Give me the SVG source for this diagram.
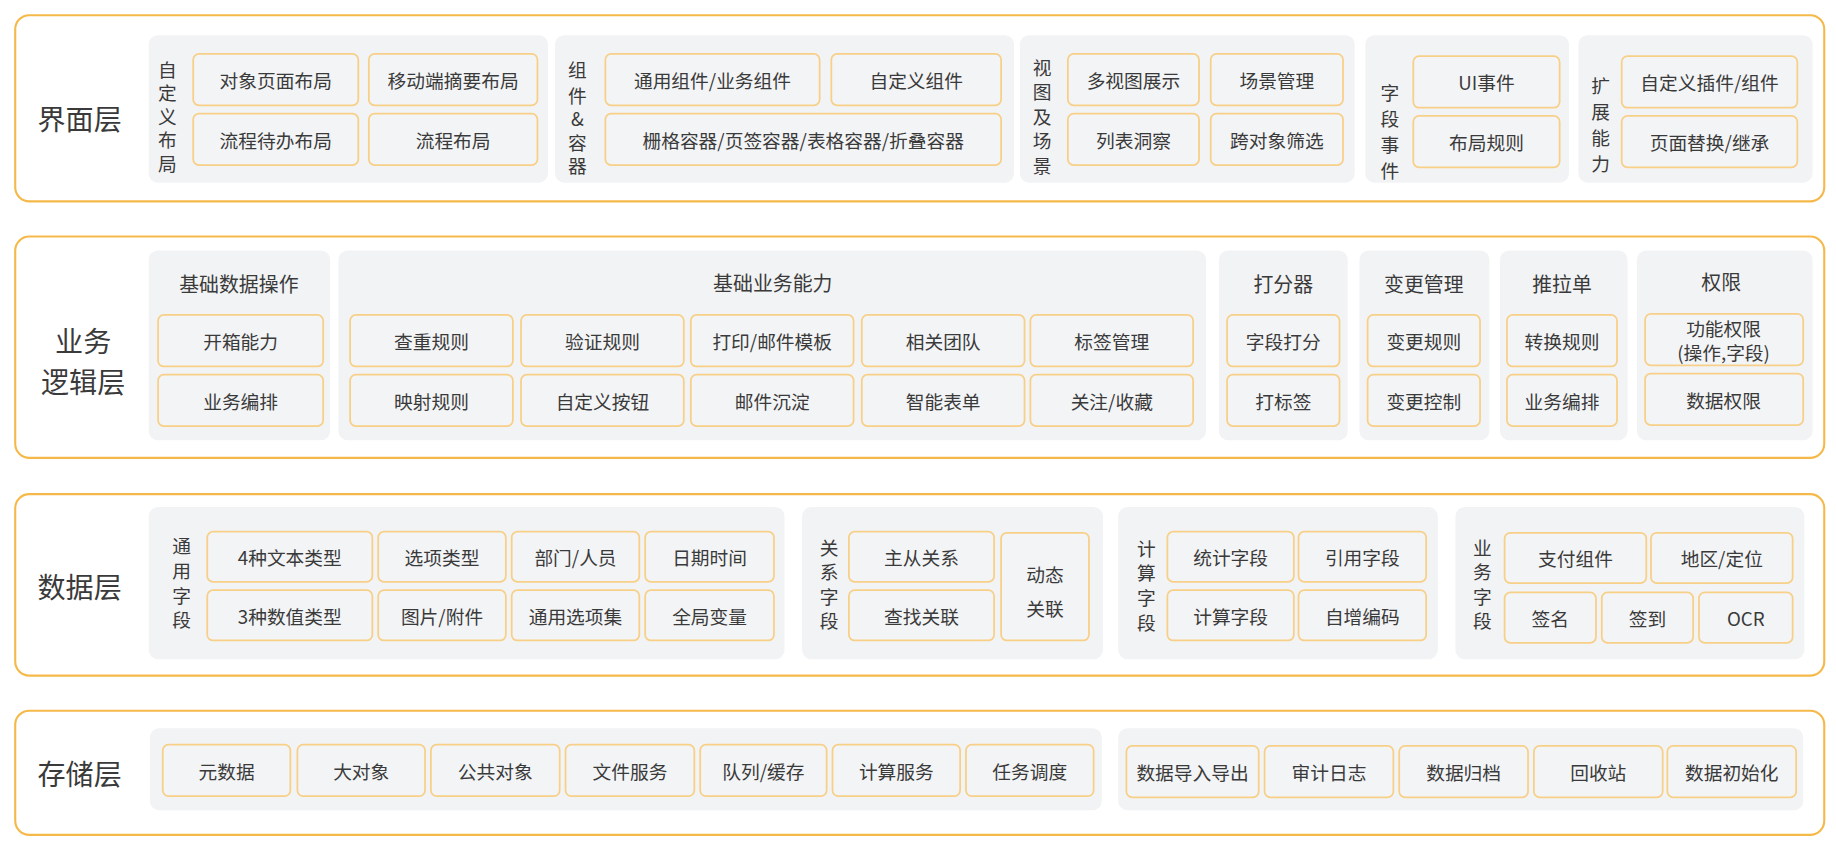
<svg xmlns="http://www.w3.org/2000/svg" width="1836" height="848" viewBox="0 0 1836 848">
<style>
.layer{fill:#fff;stroke:#f5b94a;stroke-width:1.8}
.grp{fill:#f2f3f5}
.box{fill:#f3f4f6;stroke:#f8cf86;stroke-width:1.5}
text{font-family:"Noto Sans CJK SC","Noto Sans",sans-serif;fill:#3a3a3a;text-anchor:middle;dominant-baseline:central}
.t{font-size:16px}
.h{font-size:17px}
.v{font-size:16px}
.L{font-size:24px}
</style>
<rect width="1836" height="848" fill="#fff"/>
<g transform="scale(1.1709)">
<g id="layer-ui">
<rect class="layer" x="13" y="13" width="1545" height="159" rx="12"/>
<text class="L" x="68" y="100">界面层</text>
<g id="ui-custom-layout">
<rect class="grp" x="127" y="30" width="341" height="126" rx="8"/>
<text class="v" x="143"><tspan x="143" y="58">自</tspan><tspan x="143" y="78">定</tspan><tspan x="143" y="98">义</tspan><tspan x="143" y="118">布</tspan><tspan x="143" y="138">局</tspan></text>
<rect class="box" x="165" y="46" width="141" height="44" rx="5"/><text class="t" x="235.5" y="68">对象页面布局</text>
<rect class="box" x="315" y="46" width="144" height="44" rx="5"/><text class="t" x="387" y="68">移动端摘要布局</text>
<rect class="box" x="165" y="97" width="141" height="44" rx="5"/><text class="t" x="235.5" y="119">流程待办布局</text>
<rect class="box" x="315" y="97" width="144" height="44" rx="5"/><text class="t" x="387" y="119">流程布局</text>
</g>
<g id="ui-components">
<rect class="grp" x="474" y="30" width="392" height="126" rx="8"/>
<text class="v"><tspan x="493" y="58">组</tspan><tspan x="493" y="80">件</tspan><tspan x="493" y="100">&amp;</tspan><tspan x="493" y="120">容</tspan><tspan x="493" y="140">器</tspan></text>
<rect class="box" x="517" y="46" width="183" height="44" rx="5"/><text class="t" x="608.5" y="68">通用组件/业务组件</text>
<rect class="box" x="710" y="46" width="145" height="44" rx="5"/><text class="t" x="782.5" y="68">自定义组件</text>
<rect class="box" x="517" y="97" width="338" height="44" rx="5"/><text class="t" x="686" y="119">栅格容器/页签容器/表格容器/折叠容器</text>
</g>
<g id="ui-views">
<rect class="grp" x="871" y="30" width="286" height="126" rx="8"/>
<text class="v"><tspan x="890" y="56">视</tspan><tspan x="890" y="77">图</tspan><tspan x="890" y="98">及</tspan><tspan x="890" y="119">场</tspan><tspan x="890" y="140">景</tspan></text>
<rect class="box" x="912" y="46" width="112" height="44" rx="5"/><text class="t" x="968" y="68">多视图展示</text>
<rect class="box" x="1034" y="46" width="113" height="44" rx="5"/><text class="t" x="1090.5" y="68">场景管理</text>
<rect class="box" x="912" y="97" width="112" height="44" rx="5"/><text class="t" x="968" y="119">列表洞察</text>
<rect class="box" x="1034" y="97" width="113" height="44" rx="5"/><text class="t" x="1090.5" y="119">跨对象筛选</text>
</g>
<g id="ui-events">
<rect class="grp" x="1166" y="30" width="174" height="126" rx="8"/>
<text class="v"><tspan x="1187" y="78">字</tspan><tspan x="1187" y="100">段</tspan><tspan x="1187" y="122">事</tspan><tspan x="1187" y="144">件</tspan></text>
<rect class="box" x="1207" y="48" width="125" height="44" rx="5"/><text class="t" x="1269.5" y="70">UI事件</text>
<rect class="box" x="1207" y="99" width="125" height="44" rx="5"/><text class="t" x="1269.5" y="121">布局规则</text>
</g>
<g id="ui-extend">
<rect class="grp" x="1348" y="30" width="200" height="126" rx="8"/>
<text class="v"><tspan x="1367" y="72">扩</tspan><tspan x="1367" y="94">展</tspan><tspan x="1367" y="116">能</tspan><tspan x="1367" y="138">力</tspan></text>
<rect class="box" x="1385" y="48" width="150" height="44" rx="5"/><text class="t" x="1460" y="70">自定义插件/组件</text>
<rect class="box" x="1385" y="99" width="150" height="44" rx="5"/><text class="t" x="1460" y="121">页面替换/继承</text>
</g>
</g>

<g id="layer-logic">
<rect class="layer" x="13" y="202" width="1545" height="189" rx="12"/>
<text class="L" x="71" y="290">业务</text>
<text class="L" x="71" y="325">逻辑层</text>
<g id="logic-basic-data">
<rect class="grp" x="127" y="214" width="155" height="162" rx="8"/>
<text class="h" x="204" y="242">基础数据操作</text>
<rect class="box" x="135" y="269" width="141" height="44" rx="5"/><text class="t" x="205.5" y="291">开箱能力</text>
<rect class="box" x="135" y="320" width="141" height="44" rx="5"/><text class="t" x="205.5" y="342">业务编排</text>
</g>
<g id="logic-basic-biz">
<rect class="grp" x="289" y="214" width="741" height="162" rx="8"/>
<text class="h" x="660" y="241">基础业务能力</text>
<rect class="box" x="299" y="269" width="139" height="44" rx="5"/><text class="t" x="368.5" y="291">查重规则</text>
<rect class="box" x="445" y="269" width="139" height="44" rx="5"/><text class="t" x="514.5" y="291">验证规则</text>
<rect class="box" x="590" y="269" width="139" height="44" rx="5"/><text class="t" x="659.5" y="291">打印/邮件模板</text>
<rect class="box" x="736" y="269" width="139" height="44" rx="5"/><text class="t" x="805.5" y="291">相关团队</text>
<rect class="box" x="880" y="269" width="139" height="44" rx="5"/><text class="t" x="949.5" y="291">标签管理</text>
<rect class="box" x="299" y="320" width="139" height="44" rx="5"/><text class="t" x="368.5" y="342">映射规则</text>
<rect class="box" x="445" y="320" width="139" height="44" rx="5"/><text class="t" x="514.5" y="342">自定义按钮</text>
<rect class="box" x="590" y="320" width="139" height="44" rx="5"/><text class="t" x="659.5" y="342">邮件沉淀</text>
<rect class="box" x="736" y="320" width="139" height="44" rx="5"/><text class="t" x="805.5" y="342">智能表单</text>
<rect class="box" x="880" y="320" width="139" height="44" rx="5"/><text class="t" x="949.5" y="342">关注/收藏</text>
</g>
<g id="logic-scorer">
<rect class="grp" x="1041" y="214" width="110" height="162" rx="8"/>
<text class="h" x="1096" y="242">打分器</text>
<rect class="box" x="1048" y="269" width="96" height="44" rx="5"/><text class="t" x="1096" y="291">字段打分</text>
<rect class="box" x="1048" y="320" width="96" height="44" rx="5"/><text class="t" x="1096" y="342">打标签</text>
</g>
<g id="logic-change">
<rect class="grp" x="1161" y="214" width="111" height="162" rx="8"/>
<text class="h" x="1216" y="242">变更管理</text>
<rect class="box" x="1168" y="269" width="96" height="44" rx="5"/><text class="t" x="1216" y="291">变更规则</text>
<rect class="box" x="1168" y="320" width="96" height="44" rx="5"/><text class="t" x="1216" y="342">变更控制</text>
</g>
<g id="logic-pushpull">
<rect class="grp" x="1281" y="214" width="109" height="162" rx="8"/>
<text class="h" x="1334" y="242">推拉单</text>
<rect class="box" x="1287" y="269" width="94" height="44" rx="5"/><text class="t" x="1334" y="291">转换规则</text>
<rect class="box" x="1287" y="320" width="94" height="44" rx="5"/><text class="t" x="1334" y="342">业务编排</text>
</g>
<g id="logic-perm">
<rect class="grp" x="1398" y="214" width="150" height="162" rx="8"/>
<text class="h" x="1470" y="240">权限</text>
<rect class="box" x="1405" y="268" width="135" height="44" rx="5"/><text class="t" x="1472" y="280">功能权限</text><text class="t" x="1472" y="300">(操作,字段)</text>
<rect class="box" x="1405" y="319" width="135" height="44" rx="5"/><text class="t" x="1472" y="341">数据权限</text>
</g>
</g>

<g id="layer-data">
<rect class="layer" x="13" y="422" width="1545" height="155" rx="12"/>
<text class="L" x="68" y="500">数据层</text>
<g id="data-common">
<rect class="grp" x="127" y="433" width="543" height="130" rx="8"/>
<text class="v"><tspan x="155" y="465">通</tspan><tspan x="155" y="486">用</tspan><tspan x="155" y="507">字</tspan><tspan x="155" y="528">段</tspan></text>
<rect class="box" x="177" y="454" width="141" height="43" rx="5"/><text class="t" x="247.5" y="475.5">4种文本类型</text>
<rect class="box" x="323" y="454" width="109" height="43" rx="5"/><text class="t" x="377.5" y="475.5">选项类型</text>
<rect class="box" x="437" y="454" width="109" height="43" rx="5"/><text class="t" x="491.5" y="475.5">部门/人员</text>
<rect class="box" x="551" y="454" width="110" height="43" rx="5"/><text class="t" x="606" y="475.5">日期时间</text>
<rect class="box" x="177" y="504" width="141" height="43" rx="5"/><text class="t" x="247.5" y="525.5">3种数值类型</text>
<rect class="box" x="323" y="504" width="109" height="43" rx="5"/><text class="t" x="377.5" y="525.5">图片/附件</text>
<rect class="box" x="437" y="504" width="109" height="43" rx="5"/><text class="t" x="491.5" y="525.5">通用选项集</text>
<rect class="box" x="551" y="504" width="110" height="43" rx="5"/><text class="t" x="606" y="525.5">全局变量</text>
</g>
<g id="data-relation">
<rect class="grp" x="685" y="433" width="257" height="130" rx="8"/>
<text class="v"><tspan x="708" y="466">关</tspan><tspan x="708" y="487">系</tspan><tspan x="708" y="508">字</tspan><tspan x="708" y="529">段</tspan></text>
<rect class="box" x="725" y="454" width="124" height="43" rx="5"/><text class="t" x="787" y="475.5">主从关系</text>
<rect class="box" x="725" y="504" width="124" height="43" rx="5"/><text class="t" x="787" y="525.5">查找关联</text>
<rect class="box" x="855" y="455" width="75" height="92" rx="5"/><text class="t" x="892.5" y="490">动态</text><text class="t" x="892.5" y="519">关联</text>
</g>
<g id="data-calc">
<rect class="grp" x="955" y="433" width="273" height="130" rx="8"/>
<text class="v"><tspan x="979" y="467">计</tspan><tspan x="979" y="488">算</tspan><tspan x="979" y="509">字</tspan><tspan x="979" y="530">段</tspan></text>
<rect class="box" x="997" y="454" width="108" height="43" rx="5"/><text class="t" x="1051" y="475.5">统计字段</text>
<rect class="box" x="1109" y="454" width="109" height="43" rx="5"/><text class="t" x="1163.5" y="475.5">引用字段</text>
<rect class="box" x="997" y="504" width="108" height="43" rx="5"/><text class="t" x="1051" y="525.5">计算字段</text>
<rect class="box" x="1109" y="504" width="109" height="43" rx="5"/><text class="t" x="1163.5" y="525.5">自增编码</text>
</g>
<g id="data-biz">
<rect class="grp" x="1243" y="433" width="298" height="130" rx="8"/>
<text class="v"><tspan x="1266" y="466">业</tspan><tspan x="1266" y="487">务</tspan><tspan x="1266" y="508">字</tspan><tspan x="1266" y="529">段</tspan></text>
<rect class="box" x="1285" y="455" width="121" height="43" rx="5"/><text class="t" x="1345.5" y="476.5">支付组件</text>
<rect class="box" x="1410" y="455" width="121" height="43" rx="5"/><text class="t" x="1470.5" y="476.5">地区/定位</text>
<rect class="box" x="1285" y="506" width="78" height="43" rx="5"/><text class="t" x="1324" y="527.5">签名</text>
<rect class="box" x="1368" y="506" width="78" height="43" rx="5"/><text class="t" x="1407" y="527.5">签到</text>
<rect class="box" x="1451" y="506" width="80" height="43" rx="5"/><text class="t" x="1491" y="527.5">OCR</text>
</g>
</g>

<g id="layer-storage">
<rect class="layer" x="13" y="607" width="1545" height="106" rx="12"/>
<text class="L" x="68" y="660">存储层</text>
<g id="storage-core">
<rect class="grp" x="128" y="622" width="813" height="70" rx="8"/>
<rect class="box" x="139" y="636" width="109" height="44" rx="5"/><text class="t" x="193.5" y="658">元数据</text>
<rect class="box" x="254" y="636" width="109" height="44" rx="5"/><text class="t" x="308.5" y="658">大对象</text>
<rect class="box" x="368" y="636" width="110" height="44" rx="5"/><text class="t" x="423" y="658">公共对象</text>
<rect class="box" x="483" y="636" width="110" height="44" rx="5"/><text class="t" x="538" y="658">文件服务</text>
<rect class="box" x="598" y="636" width="108" height="44" rx="5"/><text class="t" x="652" y="658">队列/缓存</text>
<rect class="box" x="711" y="636" width="109" height="44" rx="5"/><text class="t" x="765.5" y="658">计算服务</text>
<rect class="box" x="825" y="636" width="109" height="44" rx="5"/><text class="t" x="879.5" y="658">任务调度</text>
</g>
<g id="storage-ops">
<rect class="grp" x="955" y="622" width="585" height="70" rx="8"/>
<rect class="box" x="962" y="637" width="113" height="44" rx="5"/><text class="t" x="1018.5" y="659">数据导入导出</text>
<rect class="box" x="1080" y="637" width="110" height="44" rx="5"/><text class="t" x="1135" y="659">审计日志</text>
<rect class="box" x="1195" y="637" width="110" height="44" rx="5"/><text class="t" x="1250" y="659">数据归档</text>
<rect class="box" x="1310" y="637" width="110" height="44" rx="5"/><text class="t" x="1365" y="659">回收站</text>
<rect class="box" x="1424" y="637" width="110" height="44" rx="5"/><text class="t" x="1479" y="659">数据初始化</text>
</g>
</g>
<g id="connectors"/>
</g>
</svg>
